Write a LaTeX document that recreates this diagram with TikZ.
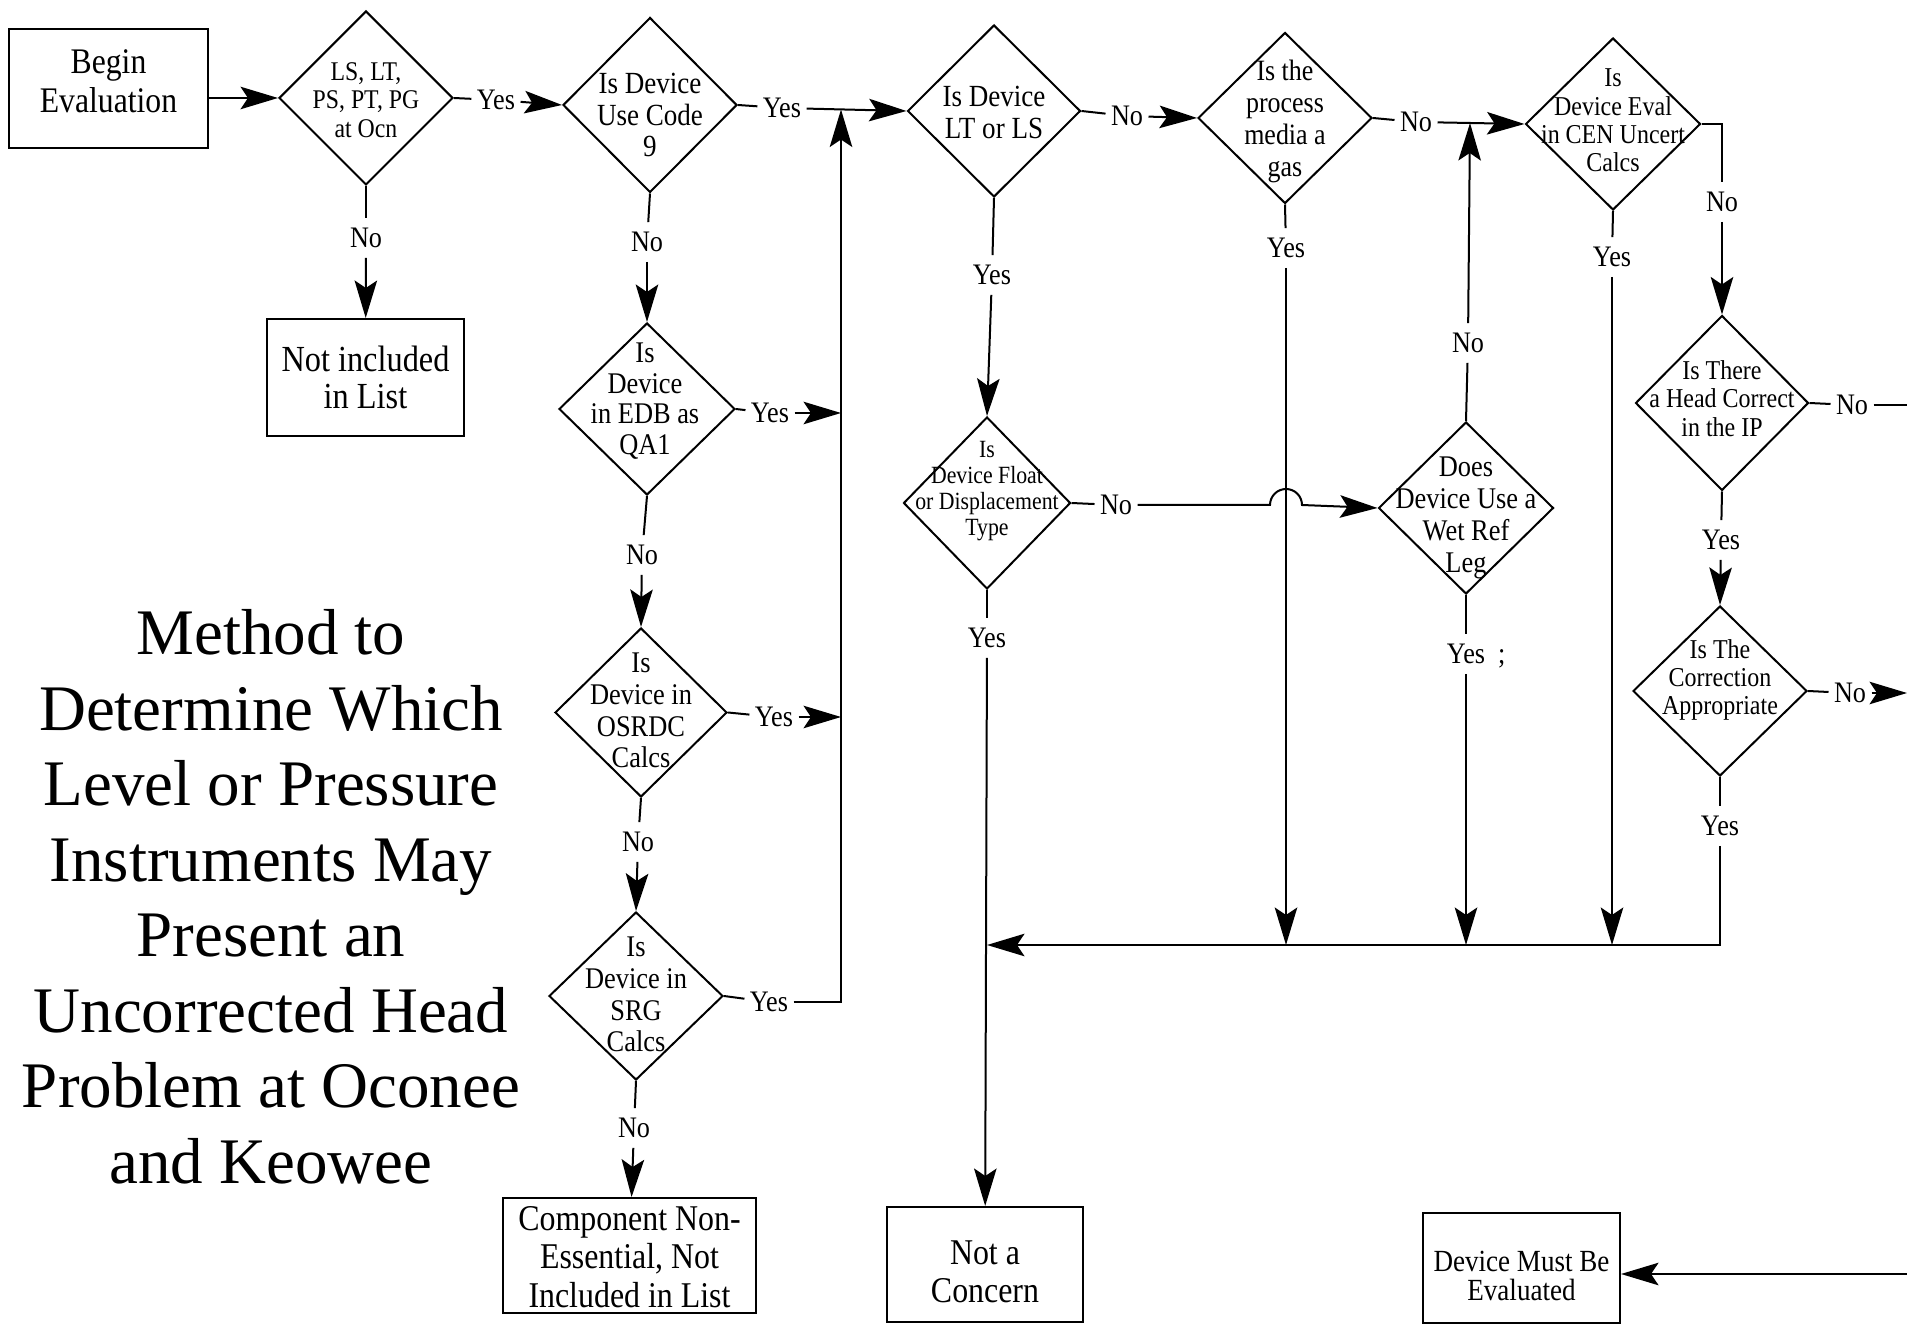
\documentclass[tikz,border=0pt]{standalone}
\usepackage{fontspec}
\setmainfont{Liberation Serif}
\newfontfamily\fc[FakeStretch=0.88]{Liberation Serif}
\usetikzlibrary{shapes.geometric,arrows.meta}
\newcommand\fzs[2]{\fc\fontsize{#1}{#2}\selectfont}
\begin{document}
\begin{tikzpicture}[x=0.4pt,y=-0.4pt,
  ln/.style={line width=0.8pt},
  arr/.style={line width=0.8pt,-{Stealth[length=15pt,width=9pt,inset=3pt]}},
  dia/.style={draw,diamond,line width=0.8pt,inner sep=0pt},
  box/.style={draw,rectangle,line width=0.8pt,inner sep=0pt},
  dtxt/.style={align=center,inner sep=0pt},
  lab/.style={font=\fzs{11.9}{13},inner xsep=2pt,inner ysep=4pt,text height=7.5pt,text depth=0pt}]
\fill[white] (0,0) rectangle (1907,1324);
\path[use as bounding box] (0,0) rectangle (1907,1324);

% title
\node[align=center,font=\fontsize{26}{30.2}\selectfont] (title) at (271,897) {Method to\\Determine Which\\Level or Pressure\\Instruments May\\Present an\\Uncorrected Head\\Problem at Oconee\\and Keowee};

% boxes
\node[box,minimum width=79.6pt,minimum height=47.6pt] (begin) at (108.5,88.5) {};
\node[dtxt,font=\fzs{14.4}{15.6}] (begint) at (108.5,81.5) {Begin\\Evaluation};
\node[box,minimum width=78.8pt,minimum height=46.8pt] (notinc) at (365.5,377.5) {};
\node[dtxt,font=\fzs{14.7}{15}] (notinct) at (365.5,377.5) {Not included\\in List};
\node[box,minimum width=101.2pt,minimum height=46pt] (comp) at (629.5,1255.5) {};
\node[dtxt,font=\fzs{14.5}{15.3}] (compt) at (629.5,1257) {Component Non-\\Essential, Not\\Included in List};
\node[box,minimum width=78.4pt,minimum height=46pt] (notcon) at (985,1264.5) {};
\node[dtxt,font=\fzs{14.5}{15.3}] (notcont) at (985,1272) {Not a\\Concern};
\node[box,minimum width=78.8pt,minimum height=44pt] (devmust) at (1521.5,1268) {};
\node[dtxt,font=\fzs{12.3}{11.4}] (devmustt) at (1521.5,1276) {Device Must Be\\Evaluated};

% diamonds
\node[dia,minimum width=69.6pt,minimum height=69.6pt] (d1) at (366,98) {};
\node[dtxt,font=\fzs{10.8}{11.3}] (d1t) at (366,100) {LS, LT,\\PS, PT, PG\\at Ocn};
\node[dia,minimum width=69.6pt,minimum height=70pt] (d2) at (650,105) {};
\node[dtxt,font=\fzs{12.3}{12.6}] (d2t) at (650,115) {Is Device\\Use Code\\9};
\node[dia,minimum width=70.4pt,minimum height=68.8pt] (d3) at (647,409) {};
\node[dtxt,font=\fzs{12}{12.2}] (d3t) at (645,401) {Is\\Device\\in EDB as\\QA1};
\node[dia,minimum width=68.8pt,minimum height=67.6pt] (d4) at (641,712.5) {};
\node[dtxt,font=\fzs{12}{12.7}] (d4t) at (641,710.5) {Is\\Device in\\OSRDC\\Calcs};
\node[dia,minimum width=69.6pt,minimum height=67.2pt] (d5) at (636,996) {};
\node[dtxt,font=\fzs{12}{12.7}] (d5t) at (636,994.5) {Is\\Device in\\SRG\\Calcs};
\node[dia,minimum width=69.2pt,minimum height=68.8pt] (d6) at (994,111) {};
\node[dtxt,font=\fzs{12.3}{12.7}] (d6t) at (994,112.5) {Is Device\\LT or LS};
\node[dia,minimum width=69.6pt,minimum height=68.4pt] (d7) at (1285,118) {};
\node[dtxt,font=\fzs{11.8}{12.9}] (d7t) at (1285,121.5) {Is the\\process\\media a\\gas};
\node[dia,minimum width=70pt,minimum height=68.8pt] (d8) at (1613,124) {};
\node[dtxt,font=\fzs{10.9}{11.3}] (d8t) at (1613,120.5) {Is\\Device Eval\\in CEN Uncert\\Calcs};
\node[dia,minimum width=69.2pt,minimum height=70pt] (d9) at (1722,403) {};
\node[dtxt,font=\fzs{10.9}{11.3}] (d9t) at (1722,398.5) {Is There\\a Head Correct\\in the IP};
\node[dia,minimum width=69.6pt,minimum height=68pt] (d10) at (1720,691) {};
\node[dtxt,font=\fzs{10.9}{11.2}] (d10t) at (1720,680) {Is The\\Correction\\Appropriate};
\node[dia,minimum width=66.8pt,minimum height=68.8pt] (d11) at (987,503) {};
\node[dtxt,font=\fzs{9.9}{10.4}] (d11t) at (987,491) {Is\\Device Float\\or Displacement\\Type};
\node[dia,minimum width=70pt,minimum height=68.8pt] (d12) at (1466,508) {};
\node[dtxt,font=\fzs{12}{12.9}] (d12t) at (1466,518) {Does\\Device Use a\\Wet Ref\\Leg};

% labels
\node[lab] (yes1) at (496,100) {Yes};
\node[lab] (no1) at (366,238) {No};
\node[lab] (no2) at (647,242) {No};
\node[lab] (yes2) at (782,108) {Yes};
\node[lab] (no3) at (1127,116) {No};
\node[lab] (no4) at (1416,122) {No};
\node[lab] (no5) at (1722,202) {No};
\node[lab] (yes3) at (1612,257) {Yes};
\node[lab] (yes4) at (1286,248) {Yes};
\node[lab] (yes5) at (992,275) {Yes};
\node[lab] (no6) at (1468,343) {No};
\node[lab] (yes6) at (1466,654) {Yes\rlap{\ \ ;}};
\node[lab] (yes7) at (987,638) {Yes};
\node[lab] (no7) at (1116,505) {No};
\node[lab] (yes8) at (770,413) {Yes};
\node[lab] (no8) at (642,555) {No};
\node[lab] (yes9) at (774,717) {Yes};
\node[lab] (no9) at (638,842) {No};
\node[lab] (yes10) at (769,1002) {Yes};
\node[lab] (no10) at (634,1128) {No};
\node[lab] (no11) at (1852,405) {No};
\node[lab] (yes11) at (1721,540) {Yes};
\node[lab] (no12) at (1850,693) {No};
\node[lab] (yes12) at (1720,826) {Yes};

% helper coordinates
\coordinate (J1) at (841,109.5);
\coordinate (J2) at (1470,123);
\coordinate (hl) at (0,945);
\coordinate (E9) at (1907,405);
\coordinate (E10) at (1907,693);
\coordinate (Edm) at (1907,1274);
\coordinate (hopL) at (1270,505);

% connectors
\draw[arr] (begin.east |- d1.west) -- (d1.west);
\draw[ln] (d1.east) -- (yes1); \draw[arr] (yes1) -- (d2.west);
\draw[ln] (d1.south) -- (no1); \draw[arr] (no1) -- (notinc);
\draw[ln] (d2.south) -- (no2); \draw[arr] (no2) -- (d3.north);
\draw[ln] (d2.east) -- (yes2); \draw[arr] (yes2) -- (d6.west);
\draw[ln] (d3.east) -- (yes8); \draw[arr] (yes8) -- (yes8 -| J1);
\draw[ln] (d3.south) -- (no8); \draw[arr] (no8) -- (d4.north);
\draw[ln] (d4.east) -- (yes9); \draw[arr] (yes9) -- (yes9 -| J1);
\draw[ln] (d4.south) -- (no9); \draw[arr] (no9) -- (d5.north);
\draw[ln] (d5.east) -- (yes10); \draw[arr] (yes10) -- (yes10 -| J1) -- (J1);
\draw[ln] (d5.south) -- (no10); \draw[arr] (no10) -- (comp);
\draw[ln] (d6.east) -- (no3); \draw[arr] (no3) -- (d7.west);
\draw[ln] (d6.south) -- (yes5); \draw[arr] (yes5) -- (d11.north);
\draw[ln] (d7.east) -- (no4); \draw[arr] (no4) -- (d8.west);
\draw[ln] (d7.south) -- (yes4); \draw[arr] (yes4) -- (yes4 |- hl);
\draw[ln] (d8.east) -| (no5); \draw[arr] (no5) -- (d9.north);
\draw[ln] (d8.south) -- (yes3); \draw[arr] (yes3) -- (yes3 |- hl);
\draw[ln] (d9.east) -- (no11); \draw[ln] (no11) -- (E9);
\draw[ln] (d9.south) -- (yes11); \draw[arr] (yes11) -- (d10.north);
\draw[ln] (d10.east) -- (no12); \draw[arr] (no12) -- (E10);
\draw[ln] (d10.south) -- (yes12); \draw[arr] (yes12) -- (yes12 |- hl) -- (yes7 |- hl);
\draw[ln] (d11.east) -- (no7); \draw[arr] (no7) -- (hopL) arc[start angle=180,end angle=0,radius=6.4pt] -- (d12.west);
\draw[ln] (d11.south) -- (yes7); \draw[arr] (yes7) -- (notcon);
\draw[ln] (d12.north) -- (no6); \draw[arr] (no6) -- (J2);
\draw[ln] (d12.south) -- (yes6); \draw[arr] (yes6) -- (yes6 |- hl);
\draw[arr] (Edm) -- (devmust.east |- Edm);
\end{tikzpicture}
\end{document}
